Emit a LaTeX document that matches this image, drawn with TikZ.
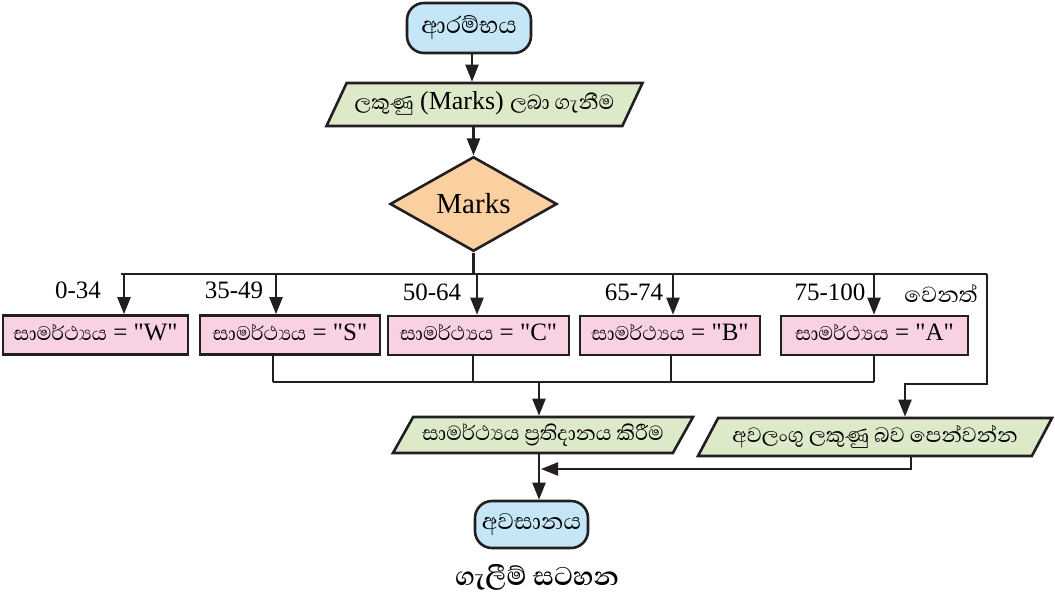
\documentclass[tikz,border=0pt]{standalone}
\usepackage{fontspec}
\setmainfont{Liberation Serif}
\newfontfamily\sinhfont[Script=Sinhala]{Abhaya Libre}
\usetikzlibrary{shapes.geometric,arrows.meta,positioning}

\definecolor{termblue}{HTML}{C4E6F7}
\definecolor{iogreen}{HTML}{DCEAC9}
\definecolor{decorange}{HTML}{FBD0A0}
\definecolor{procpink}{HTML}{F8D1E3}
\definecolor{inkline}{HTML}{231F20}

\newcommand{\si}[1]{{\sinhfont #1}}
\newcommand{\fs}[1]{\fontsize{#1}{#1}\selectfont}

\tikzset{
  term/.style={draw=inkline, line width=2.6pt, fill=termblue, rounded corners=17pt,
    inner sep=2pt},
  iobox/.style={trapezium, trapezium left angle=50, trapezium right angle=130,
    trapezium stretches body=true, draw=inkline, line width=2.6pt, fill=iogreen,
    inner sep=2pt, text height=15pt, text depth=5pt},
  decbox/.style={diamond, draw=inkline, line width=2.6pt, fill=decorange, inner sep=0pt,
    minimum width=167pt, minimum height=92pt, font=\fs{29}},
  procbox/.style={rectangle, draw=inkline, line width=2.6pt, fill=procpink,
    minimum height=39pt, inner sep=1pt, text height=15pt, text depth=5pt, font=\fs{25}},
  wire/.style={draw=inkline, line width=2.2pt},
  arr/.style={wire, -{Triangle[length=17pt,width=13pt]}},
  rangelbl/.style={font=\fs{25}, inner sep=0pt}
}

\begin{document}
\begin{tikzpicture}[x=1pt, y=-1pt]
    \useasboundingbox (0,0) rectangle (1055,598);

    % Start and input
    \node[term, minimum width=124pt, minimum height=50pt, font=\fs{30}] (start) at (469,28) {\si{ආරම්භය}};
    \node[iobox, minimum width=316pt, minimum height=43pt, font=\fs{26}] (input) at (484.5,104.5)
        {\si{ලකුණු} (Marks) \si{ලබා ගැනීම}};
    \draw[arr] ([xshift=3pt]start.south) -- ([xshift=3pt]start.south |- input.north);

    % Decision
    \node[decbox] (marks) at (473.5,204) {Marks};
    \draw[arr] (input.south -| marks.north) -- (marks.north);

    % Bus below the decision
    \coordinate (busL) at (121,274);
    \coordinate (busR) at (987,274);
    \draw[wire] (marks.south) -- (marks.south |- busL);
    \draw[wire] (busL) -- (busR);

    % Grade boxes
    \node[procbox, minimum width=185pt] (boxW) at (95.5,335)    {\si{සාමර්ථ්‍යය} = \textquotedbl W\textquotedbl};
    \node[procbox, minimum width=180pt] (boxS) at (290,335)     {\si{සාමර්ථ්‍යය} = \textquotedbl S\textquotedbl};
    \node[procbox, minimum width=181pt] (boxC) at (478.5,335.5) {\si{සාමර්ථ්‍යය} = \textquotedbl C\textquotedbl};
    \node[procbox, minimum width=180pt] (boxB) at (670,335.5)   {\si{සාමර්ථ්‍යය} = \textquotedbl B\textquotedbl};
    \node[procbox, minimum width=187pt] (boxA) at (874.5,335.5) {\si{සාමර්ථ්‍යය} = \textquotedbl A\textquotedbl};

    % Arrows from the bus
    \foreach \n/\dx in {W/28.5, S/-14, C/-1.5, B/3, A/-0.5}
        \draw[arr] ([xshift=\dx pt]box\n.north |- busL) -- ([xshift=\dx pt]box\n.north);

    % Ranges
    \node[rangelbl] (r0) at (78,290)  {0-34};
    \node[rangelbl] (r1) at (234,290) {35-49};
    \node[rangelbl] (r2) at (432,292) {50-64};
    \node[rangelbl] (r3) at (634,292) {65-74};
    \node[rangelbl] (r4) at (830,292) {75-100};
    \node[rangelbl, font=\fs{28}] (r5) at (941,293) {\si{වෙනත්}};

    % Collector
    \coordinate (colL) at (273,382);
    \coordinate (colR) at (874,382);
    \foreach \n/\dx in {S/-17, C/-5.5, B/1, A/-0.5}
        \draw[wire] ([xshift=\dx pt]box\n.south) -- ([xshift=\dx pt]box\n.south |- colL);
    \draw[wire] (colL) -- (colR);

    % Outputs
    \node[iobox, minimum width=300pt, minimum height=36pt, font=\fs{26}] (output) at (543,435)
        {\si{සාමර්ථ්‍යය ප්‍රතිදානය කිරීම}};
    \node[iobox, minimum width=354pt, minimum height=38pt, font=\fs{26.5}] (invalid) at (875,437)
        {\si{අවලංගු ලකුණු බව පෙන්වන්න}};
    \draw[arr] (539,382) -- (output.north -| 539,0);
    \draw[arr] (busR) -- (987,384) -- (905,384) -- (invalid.north -| 905,0);

    % End
    \node[term, minimum width=113pt, minimum height=47pt, font=\fs{29}] (stop) at (531.5,524.5) {\si{අවසානය}};
    \draw[arr] (output.south -| 539,0) -- (stop.north -| 539,0);
    \draw[arr] (invalid.south -| 911,0) -- (911,469) -- (541,469);

    % Caption
    \node[font=\fs{33}\bfseries\sinhfont] (cap) at (537,577) {ගැලීම් සටහන};
\end{tikzpicture}
\end{document}
